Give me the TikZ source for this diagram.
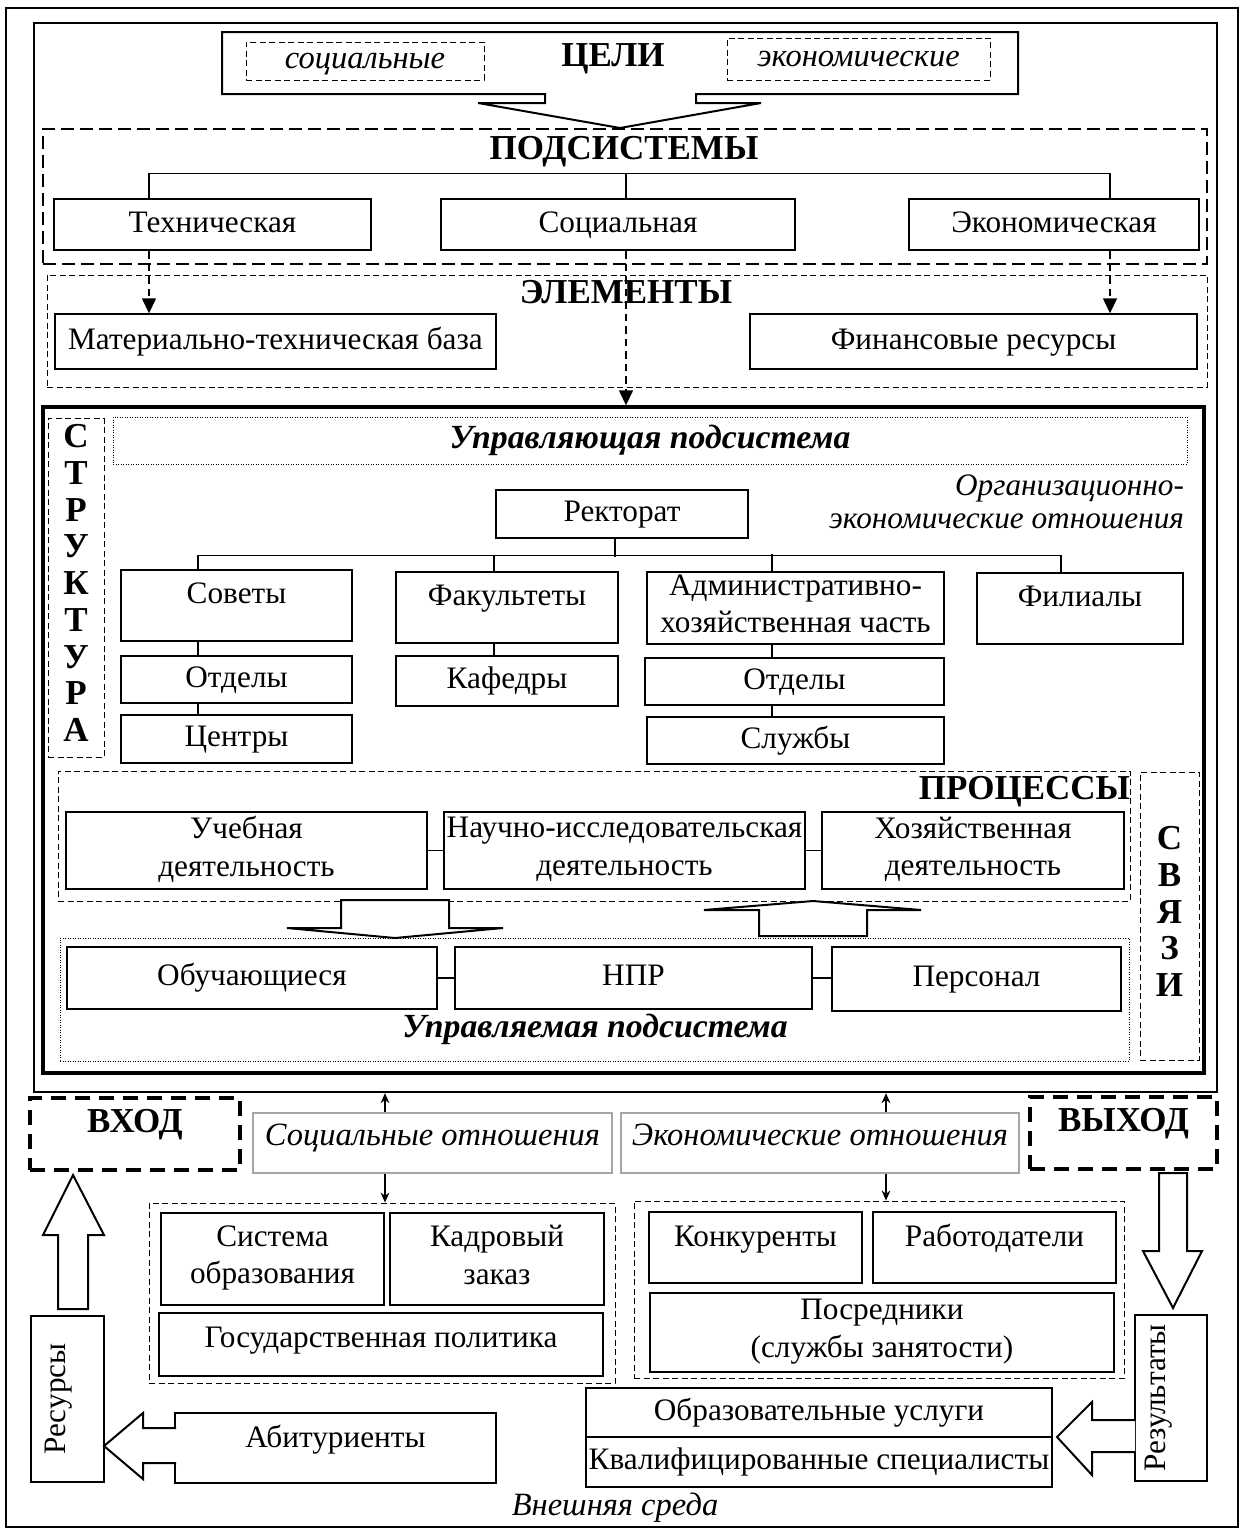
\documentclass[tikz,border=0pt]{standalone}
\usepackage{fontspec}
\setmainfont{Liberation Serif}
\usetikzlibrary{arrows.meta}
\newcommand{\boxstrut}{\rule[-3.5pt]{0pt}{13pt}}

\begin{document}
\begin{tikzpicture}[x=0.4pt, y=-0.4pt,
  every node/.style={font=\fontsize{12.5}{15}\selectfont, inner sep=1pt, align=center,
    execute at begin node=\boxstrut, execute at end node=\boxstrut},
  spot/.style n args={4}{at={({(#1+#3)/2},{(#2+#4)/2})}, minimum width={(#3-#1)*0.4pt}, minimum height={(#4-#2)*0.4pt}},
  vspot/.style n args={4}{at={({(#1+#3)/2},{(#2+#4)/2})}, minimum width={(#4-#2)*0.4pt}, minimum height={(#3-#1)*0.4pt}, rotate=90},
  box/.style={draw, line width=0.5pt},
  boldbox/.style={draw, line width=1pt},
  group/.style={draw, line width=0.4pt, dash pattern=on 2.4pt off 1.4pt},
  dotgroup/.style={draw, line width=0.4pt, dash pattern=on 0.4pt off 0.6pt},
  heavydash/.style={draw, line width=0.9pt, dash pattern=on 5pt off 2.6pt},
  gate/.style={draw, line width=1.6pt, dash pattern=on 6pt off 3.6pt},
  relbox/.style={draw=black!35, line width=0.9pt},
  lifted/.style={text height=8.5pt, text depth=#1},
  bigbold/.style={font=\fontsize{14}{16}\selectfont\bfseries},
  slanted/.style={font=\fontsize{13}{15}\selectfont\itshape},
  boldital/.style={font=\fontsize{13.5}{15}\selectfont\bfseries\itshape},
  letters/.style={font=\fontsize{14}{14.7}\selectfont\bfseries},
  blockarrow/.style={draw, line width=0.8pt, fill=white},
  dasharrow/.style={line width=0.8pt, dash pattern=on 3pt off 2pt, -{Triangle[length=6pt,width=5.5pt]}},
  thinarrow/.style={line width=0.5pt, -{Stealth[length=4pt,width=3.5pt]}}
]
\useasboundingbox (0,0) rectangle (1243,1533);
\node[box, spot={6}{8}{1238}{1527}] (outer) {};
\node[draw, line width=0.9pt, spot={34}{23}{1217}{1092}] (frame) {};

\draw[line width=0.8pt] (222,32) -- (1018,32) -- (1018,94) -- (696,94) -- (696,103) -- (761,103) -- (620,128)
  -- (478,103) -- (545,103) -- (545,94) -- (222,94) -- cycle;
\node[bigbold] (goals) at (613,59) {ЦЕЛИ};
\node[group, slanted, spot={246}{42}{484}{80}] (goalsoc) {социальные};
\node[group, slanted, spot={727}{38}{990}{80}] (goaleco) {экономические};

\node[heavydash, spot={43}{129}{1207}{264}] (subsys) {};
\node[bigbold] (subsyslbl) at (624,152) {ПОДСИСТЕМЫ};
\node[boldbox, spot={54}{199}{371}{250}] (tech) {Техническая};
\node[boldbox, spot={441}{199}{795}{250}] (socsub) {Социальная};
\node[boldbox, spot={909}{199}{1199}{250}] (ecosub) {Экономическая};
\draw[line width=0.5pt] ([xshift=-25.4pt]tech.north) -- ++(0,-24) -| ([xshift=22.4pt]ecosub.north);
\draw[line width=0.5pt] ([xshift=3.2pt]socsub.north) -- ++(0,-24);

\node[group, spot={47}{275}{1207}{387}] (elem) {};
\node[bigbold] (elemlbl) at (626,296) {ЭЛЕМЕНТЫ};
\node[box, spot={55}{314}{496}{369}] (mtb) {Материально-техническая база};
\node[box, spot={750}{314}{1197}{369}] (fin) {Финансовые ресурсы};

\node[draw, line width=1.3pt, spot={43}{407}{1204}{1073}] (core) {};
\draw[dasharrow] ([xshift=-25.4pt]tech.south) -- ([xshift=-25.4pt]tech.south |- mtb.north);
\draw[dasharrow] ([xshift=3.2pt]socsub.south) -- ([xshift=3.2pt]socsub.south |- core.north);
\draw[dasharrow] ([xshift=22.4pt]ecosub.south) -- ([xshift=22.4pt]ecosub.south |- fin.north);

\node[dotgroup, boldital, spot={113}{417}{1187}{464}] (ctrl) {Управляющая подсистема};
\node[group, letters, spot={48}{418}{104}{757}] (struct) {С\\Т\\Р\\У\\К\\Т\\У\\Р\\А};
\node[font=\fontsize{12.5}{13.2}\selectfont\itshape, align=right, anchor=east] (orgrel) at (1187,506) {Организационно-\\экономические отношения};
\node[box, spot={496}{490}{748}{538}] (rect) {Ректорат};
\node[box, lifted=10pt, spot={121}{570}{352}{641}] (sov) {Советы};
\node[box, spot={121}{656}{352}{703}] (dep1) {Отделы};
\node[box, spot={121}{715}{352}{763}] (cent) {Центры};
\node[box, lifted=10pt, spot={396}{572}{618}{643}] (fac) {Факультеты};
\node[box, spot={396}{656}{618}{706}] (chair) {Кафедры};
\node[box, spot={647}{573}{944}{643}] (ahc) {Административно-\\хозяйственная часть};
\node[box, spot={645}{658}{944}{705}] (dep2) {Отделы};
\node[box, spot={647}{717}{944}{764}] (serv) {Службы};
\node[boldbox, lifted=10.5pt, spot={977}{573}{1183}{644}] (fil) {Филиалы};
\draw[line width=0.5pt] ([xshift=-2.8pt]rect.south) -- ++(0,18);
\draw[line width=0.5pt] ([xshift=-15.4pt]sov.north) -- ++(0,-14) -| ([xshift=-7.6pt]fil.north);
\draw[line width=0.5pt] ([xshift=-5.2pt]fac.north) -- ++(0,-16);
\draw[line width=0.5pt] ([xshift=-9.4pt]ahc.north) -- ++(0,-17);
\draw[line width=0.5pt] ([xshift=-15.4pt]sov.south) -- ([xshift=-15.4pt]dep1.north);
\draw[line width=0.5pt] ([xshift=-15.4pt]dep1.south) -- ([xshift=-15.4pt]cent.north);
\draw[line width=0.5pt] ([xshift=-5.2pt]fac.south) -- ([xshift=-5.2pt]chair.north);
\draw[line width=0.5pt] ([xshift=-9.4pt]ahc.south) -- ([xshift=-9pt]dep2.north);
\draw[line width=0.5pt] ([xshift=-9pt]dep2.south) -- ([xshift=-9.4pt]serv.north);

\node[group, spot={58}{771}{1130}{901}] (proc) {};
\node[bigbold, anchor=east] (proclbl) at (1133,792) {ПРОЦЕССЫ};
\node[boldbox, spot={66}{812}{427}{889}] (study) {Учебная\\деятельность};
\node[boldbox, spot={444}{812}{805}{889}] (sci) {Научно-исследовательская\\деятельность};
\node[boldbox, spot={822}{812}{1124}{889}] (hoz) {Хозяйственная\\деятельность};
\draw[line width=0.5pt] (study) -- (sci);
\draw[line width=0.5pt] (sci) -- (hoz);
\node[group, letters, spot={1140}{772}{1199}{1060}] (links) {С\\В\\Я\\З\\И};

\draw[blockarrow] (341,900) -- (449,900) -- (449,928) -- (503,928) -- (395,938) -- (287,928) -- (341,928) -- cycle;
\draw[blockarrow] (759,936) -- (867,936) -- (867,910) -- (921,910) -- (813,901) -- (704,910) -- (759,910) -- cycle;

\node[dotgroup, spot={60}{938}{1129}{1061}] (managed) {};
\node[boldital] (managedlbl) at (595,1030) {Управляемая подсистема};
\node[box, spot={67}{947}{437}{1009}] (stud) {Обучающиеся};
\node[box, spot={455}{947}{812}{1009}] (npr) {НПР};
\node[box, spot={832}{947}{1121}{1011}] (staff) {Персонал};
\draw[line width=0.5pt] (stud) -- (npr);
\draw[line width=0.5pt] (npr.east) -- (npr.east -| staff.west);

\node[gate, bigbold, lifted=9.6pt, spot={30}{1098}{240}{1170}] (vhod) {ВХОД};
\node[gate, bigbold, lifted=9.6pt, spot={1030}{1097}{1217}{1169}] (vyhod) {ВЫХОД};
\node[relbox, slanted, lifted=6.4pt, spot={253}{1113}{612}{1173}] (socrel) {Социальные отношения};
\node[relbox, slanted, lifted=6.4pt, spot={621}{1113}{1019}{1173}] (ecorel) {Экономические отношения};

\node[group, spot={149}{1203}{615}{1383}] (socgrp) {};
\node[boldbox, spot={161}{1213}{384}{1305}] (sysedu) {Система\\образования};
\node[box, spot={390}{1213}{604}{1305}] (kadr) {Кадровый\\заказ};
\node[boldbox, lifted=6pt, spot={159}{1313}{603}{1376}] (gov) {Государственная политика};
\node[group, spot={634}{1201}{1124}{1378}] (ecogrp) {};
\node[boldbox, lifted=9.6pt, spot={649}{1212}{862}{1283}] (rivals) {Конкуренты};
\node[boldbox, lifted=9.6pt, spot={873}{1212}{1116}{1283}] (employers) {Работодатели};
\node[boldbox, spot={650}{1293}{1114}{1372}] (agents) {Посредники\\(службы занятости)};

\draw[thinarrow] ([xshift=-19pt]socrel.north) -- ([xshift=-19pt]socrel.north |- frame.south);
\draw[thinarrow] ([xshift=-19pt]socrel.south) -- ([xshift=-19pt]socrel.south |- socgrp.north);
\draw[thinarrow] ([xshift=26.4pt]ecorel.north) -- ([xshift=26.4pt]ecorel.north |- frame.south);
\draw[thinarrow] ([xshift=26.4pt]ecorel.south) -- ([xshift=26.4pt]ecorel.south |- ecogrp.north);

\node[boldbox, lifted=10pt, vspot={31}{1316}{104}{1482}] (resources) {Ресурсы};
\node[box, lifted=13pt, vspot={1135}{1315}{1207}{1481}] (results) {Результаты};
\node[box, lifted=9pt, spot={175}{1413}{496}{1483}] (abit) {Абитуриенты};
\node[boldbox, spot={586}{1388}{1052}{1437}] (edserv) {Образовательные услуги};
\node[boldbox, spot={586}{1437}{1052}{1487}] (qual) {Квалифицированные специалисты};
\node[slanted] (envlbl) at (615,1508) {Внешняя среда};

\draw[blockarrow] (58,1309) -- (58,1235) -- (43,1235) -- (73,1175) -- (104,1235) -- (88,1235) -- (88,1309) -- cycle;
\draw[blockarrow] (176,1428) -- (143,1428) -- (143,1413) -- (104,1446) -- (143,1479) -- (143,1463) -- (176,1463);
\draw[blockarrow] (1159,1173) -- (1187,1173) -- (1187,1251) -- (1202,1251) -- (1173,1308) -- (1143,1251) -- (1159,1251) -- cycle;
\draw[blockarrow] (1135,1420) -- (1092,1420) -- (1092,1402) -- (1057,1437) -- (1092,1475) -- (1092,1452) -- (1135,1452);
\end{tikzpicture}
\end{document}
